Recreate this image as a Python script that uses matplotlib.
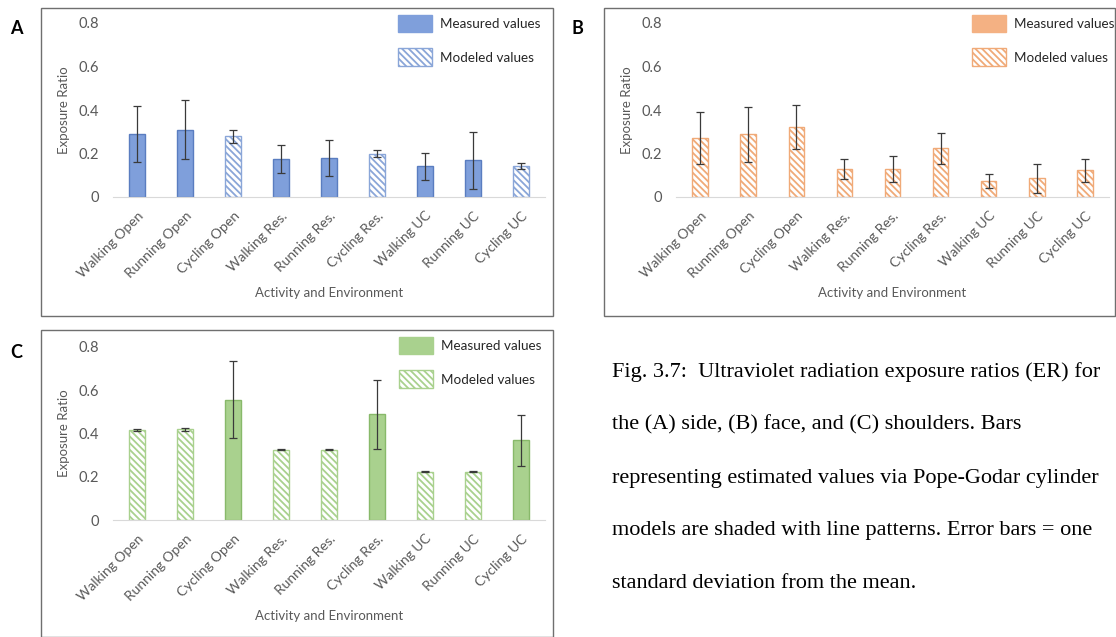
import matplotlib
matplotlib.use('Agg')
import matplotlib.pyplot as plt
from matplotlib.patches import Patch, Rectangle

plt.rcParams['font.family'] = ['Lato', 'DejaVu Sans']
plt.rcParams['hatch.linewidth'] = 1.3

categories = ['Walking Open', 'Running Open', 'Cycling Open', 'Walking Res.',
              'Running Res.', 'Cycling Res.', 'Walking UC', 'Running UC', 'Cycling UC']
yticks = [0, 0.2, 0.4, 0.6, 0.8]

# (A) side
side_er = [0.29, 0.31, 0.28, 0.175, 0.18, 0.20, 0.142, 0.168, 0.142]
side_sd = [0.13, 0.137, 0.03, 0.063, 0.082, 0.018, 0.062, 0.132, 0.013]
side_modeled = [False, False, True, False, False, True, False, False, True]

# (B) face
face_er = [0.271, 0.288, 0.322, 0.128, 0.128, 0.223, 0.072, 0.086, 0.123]
face_sd = [0.12, 0.125, 0.103, 0.047, 0.06, 0.072, 0.032, 0.068, 0.052]
face_modeled = [True] * 9

# (C) shoulders
shoulder_er = [0.415, 0.42, 0.557, 0.325, 0.325, 0.488, 0.223, 0.223, 0.368]
shoulder_sd = [0.005, 0.007, 0.178, 0.002, 0.002, 0.16, 0.002, 0.002, 0.117]
shoulder_modeled = [True, True, False, True, True, False, True, True, False]

W, H = 1116, 637
fig = plt.figure(figsize=(W / 100, H / 100), dpi=100)


def px(x0, y0, x1, y1):
    # pixel box (top-left origin) -> figure fraction rect
    return [x0 / W, 1 - y1 / H, (x1 - x0) / W, (y1 - y0) / H]


gray = '#595959'
HATCH = '\\\\\\\\\\'


def panel(rect, vals, sds, modeled, fill, edge, hatchc, leg_xy):
    ax = fig.add_axes(rect)
    x = list(range(len(categories)))
    for i in x:
        if modeled[i]:
            ax.bar(i, vals[i], width=0.32, facecolor='white', edgecolor=hatchc,
                   hatch=HATCH, linewidth=1.0, zorder=2)
        else:
            ax.bar(i, vals[i], width=0.32, facecolor=fill, edgecolor=edge,
                   linewidth=1.0, zorder=2)
    ax.errorbar(x, vals, yerr=sds, fmt='none', ecolor='#3a3a3a', elinewidth=0.9,
                capsize=3, capthick=0.9, zorder=3)
    ax.set_xlim(-0.5, len(categories) - 0.5)
    ax.set_ylim(0, 0.8)
    ax.set_yticks(yticks)
    ax.set_yticklabels(['0', '0.2', '0.4', '0.6', '0.8'])
    ax.set_xticks(x)
    ax.set_xticklabels(categories, rotation=45, ha='right', rotation_mode='anchor')
    ax.tick_params(axis='both', length=0, colors=gray)
    ax.tick_params(axis='y', pad=10, labelsize=10.5)
    ax.tick_params(axis='x', pad=9, labelsize=10)
    for s in ['top', 'right', 'left']:
        ax.spines[s].set_visible(False)
    ax.spines['bottom'].set_color('#d9d9d9')
    ax.set_ylabel('Exposure Ratio', color=gray, fontsize=9.5, labelpad=6)
    ax.set_xlabel('Activity and Environment', color=gray, fontsize=9.5, labelpad=5)
    ax.set_facecolor('none')
    handles = [Patch(facecolor=fill, edgecolor=fill, label='Measured values'),
               Patch(facecolor='white', edgecolor=hatchc, hatch=HATCH, label='Modeled values')]
    ax.legend(handles=handles, loc='upper left', frameon=False,
              bbox_to_anchor=(leg_xy[0] / W, 1 - leg_xy[1] / H),
              bbox_transform=fig.transFigure, fontsize=9.7, handlelength=2.55,
              handleheight=1.6, labelspacing=1.2, handletextpad=0.6,
              borderpad=0, borderaxespad=0, labelcolor='#262626')
    return ax


# panel frames
for x0, y0, x1, y1 in [(41, 8, 553, 316), (604, 8, 1115, 316), (41, 330, 553, 637)]:
    fig.patches.append(Rectangle((x0 / W, 1 - y1 / H), (x1 - x0) / W, (y1 - y0) / H,
                                 transform=fig.transFigure, fill=False,
                                 edgecolor='#6f6f6f', linewidth=1.0))

panel(px(113, 23, 545, 197), side_er, side_sd, side_modeled,
      '#7f9fdb', '#5a7dc0', '#8aa6d8', (398, 15))
panel(px(676, 23, 1109, 197), face_er, face_sd, face_modeled,
      '#f4b183', '#e69a65', '#f0aa78', (972, 15))
panel(px(113, 347, 545, 520), shoulder_er, shoulder_sd, shoulder_modeled,
      '#a9d18e', '#88b96a', '#a9d18e', (399, 337))

for lab, x, y in [('A', 16, 28), ('B', 577, 28), ('C', 16, 352)]:
    fig.text(x / W, 1 - y / H, lab, fontsize=13, fontweight='bold',
             va='center', ha='center', color='black')

caption = ['Fig. 3.7:  Ultraviolet radiation exposure ratios (ER) for',
           'the (A) side, (B) face, and (C) shoulders. Bars',
           'representing estimated values via Pope-Godar cylinder',
           'models are shaded with line patterns. Error bars = one',
           'standard deviation from the mean.']
for i, line in enumerate(caption):
    fig.text(612 / W, 1 - (372 + 53 * i) / H, line, family='Liberation Serif',
             fontsize=16, va='center', ha='left', color='black')

fig.savefig('out.png', dpi=100)
